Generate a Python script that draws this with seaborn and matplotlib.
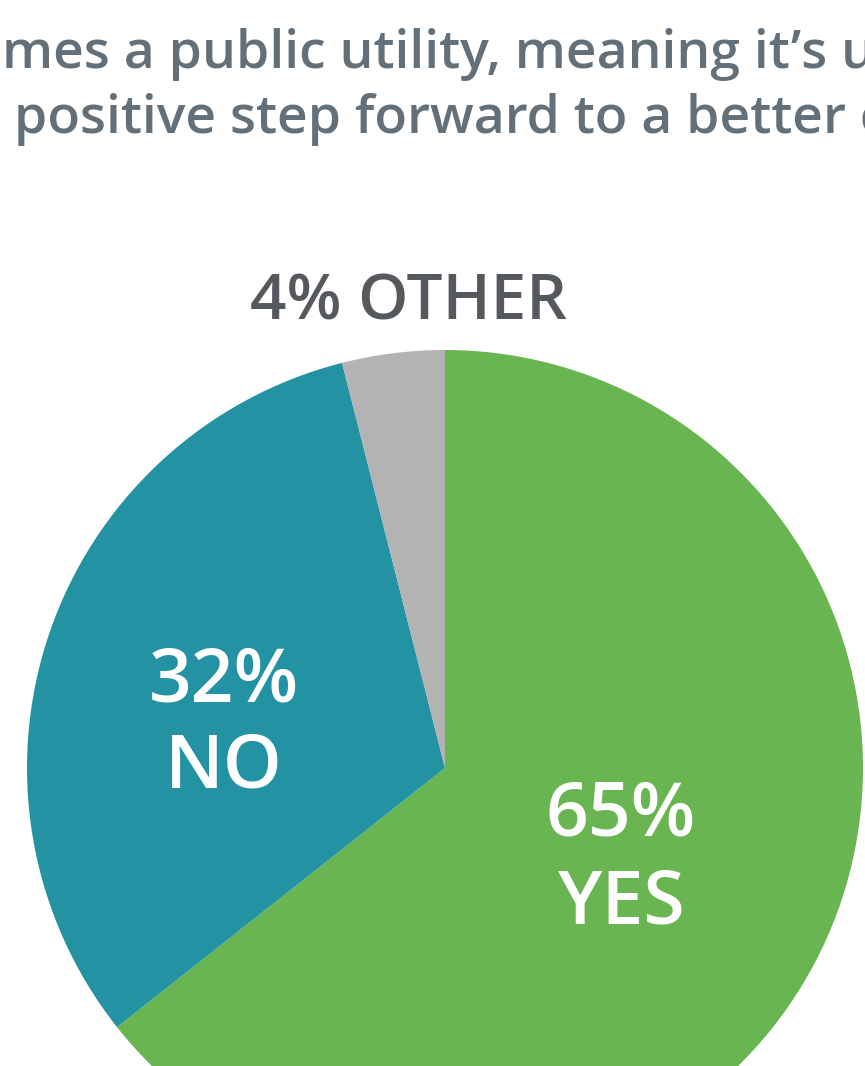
import matplotlib
matplotlib.use("Agg")
import matplotlib.pyplot as plt
import seaborn as sns

# Data
categories = ["YES", "NO", "OTHER"]
values = [65, 32, 4]
labels_pct = ["65%", "32%", "4%"]
colors = ["#68b552", "#2393a3", "#b3b3b3"]
title_lines = ["mes a public utility, meaning it\u2019s u",
               "positive step forward to a better c"]

sns.set_theme(style="white")
plt.rcParams['font.family'] = ['Open Sans', 'DejaVu Sans']

W, H = 865, 1066
fig = plt.figure(figsize=(W / 100, H / 100), dpi=100)
ax = fig.add_axes([0, 0, 1, 1])
ax.set_xlim(0, W)
ax.set_ylim(0, H)
ax.set_aspect("equal")
ax.axis("off")

cx, cy, r = 445, H - 768, 418
ax.pie(values, colors=sns.color_palette(colors), startangle=90, counterclock=False,
       center=(cx, cy), radius=r, frame=True,
       wedgeprops=dict(linewidth=0))
ax.set_xlim(0, W)
ax.set_ylim(0, H)
ax.axis("off")

title_color = "#63707a"
ax.text(2, H - 68, title_lines[0], fontsize=38.5, fontweight="semibold",
        color=title_color, ha="left", va="baseline")
ax.text(14, H - 133, title_lines[1], fontsize=38.5, fontweight="semibold",
        color=title_color, ha="left", va="baseline")

ax.text(409, H - 320, f"{labels_pct[2]} {categories[2]}", fontsize=46,
        fontweight="semibold", color="#55595e", ha="center", va="baseline")

ax.text(224, H - 702, labels_pct[1], fontsize=54, fontweight="semibold",
        color="white", ha="center", va="baseline")
ax.text(224, H - 788, categories[1], fontsize=54, fontweight="semibold",
        color="white", ha="center", va="baseline")
ax.text(621, H - 835, labels_pct[0], fontsize=54, fontweight="semibold",
        color="white", ha="center", va="baseline")
ax.text(621, H - 923, categories[0], fontsize=54, fontweight="semibold",
        color="white", ha="center", va="baseline")

fig.savefig("out.png", dpi=100, facecolor="white")
